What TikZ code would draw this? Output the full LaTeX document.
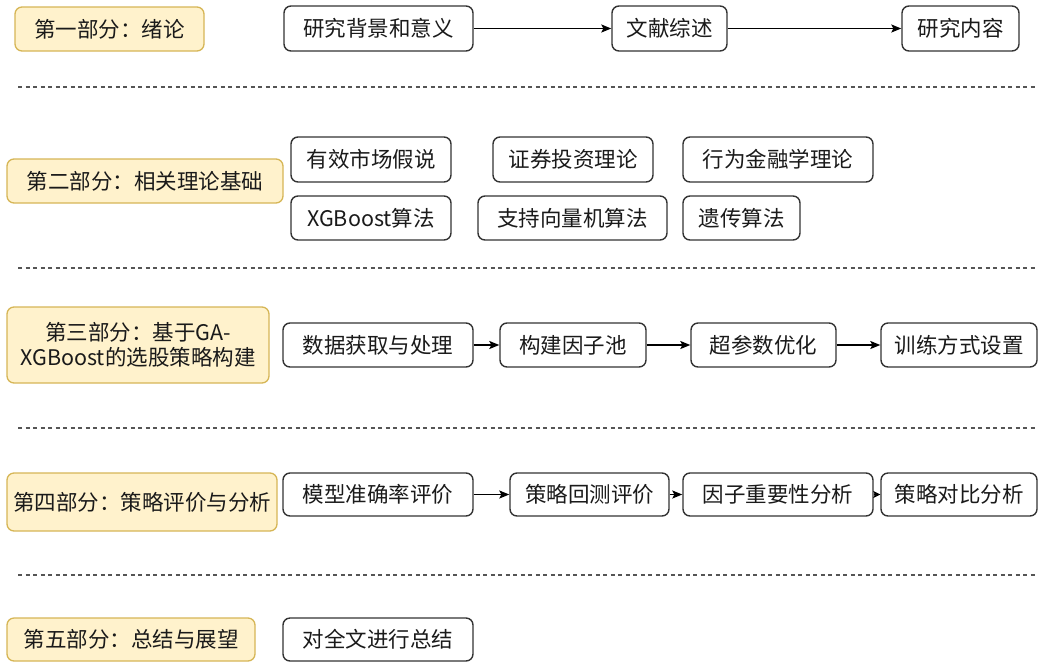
\documentclass[tikz,border=0pt]{standalone}
\usepackage{fontspec}
\setmainfont{Noto Sans CJK SC}
\usetikzlibrary{arrows.meta}
\definecolor{partfill}{HTML}{FFF2CC}
\definecolor{partdraw}{HTML}{D6B656}
\definecolor{boxdraw}{HTML}{333333}
\definecolor{txt}{HTML}{1A1A1A}
\definecolor{sepcol}{HTML}{555555}
\begin{document}
\begin{tikzpicture}[x=1pt,y=-1pt,
  every node/.style={font=\fontsize{21.5}{25}\selectfont, text=txt, inner sep=0pt},
  part/.style={draw=partdraw, fill=partfill, line width=1.3pt, rounded corners=7pt},
  item/.style={draw=boxdraw, fill=white, line width=1.4pt, rounded corners=7pt},
  flow/.style={draw=black, line width=1.3pt, -{Stealth[length=10pt,width=8pt,inset=2pt]}},
  sep/.style={draw=sepcol, line width=1.3pt, dash pattern=on 4pt off 3.5pt}
]
\useasboundingbox (0,0) rectangle (1038,662);

% Part 1
\node[part, minimum width=189pt, minimum height=44pt] (p1) at (109.5,29) {第一部分：绪论};
\node[item, minimum width=189pt, minimum height=45pt] (a1) at (378.5,28.5) {研究背景和意义};
\node[item, minimum width=115pt, minimum height=45pt] (a2) at (669.5,28.5) {文献综述};
\node[item, minimum width=117pt, minimum height=45pt] (a3) at (960.5,28.5) {研究内容};
\draw[flow] (a1) -- (a2);
\draw[flow] (a2) -- (a3);

\coordinate (s1l) at (18,87); \coordinate (s1r) at (1036,87);
\draw[sep] (s1l) -- (s1r);

% Part 2
\node[part, minimum width=276pt, minimum height=44pt] (p2) at (145,181) {第二部分：相关理论基础};
\node[item, minimum width=160pt, minimum height=45pt] (b1) at (371,159.5) {有效市场假说};
\node[item, minimum width=160pt, minimum height=45pt] (b2) at (573,159.5) {证券投资理论};
\node[item, minimum width=190pt, minimum height=45pt] (b3) at (778,159.5) {行为金融学理论};
\node[item, minimum width=160pt, minimum height=44pt] (b4) at (371,218) {XGBoost算法};
\node[item, minimum width=189pt, minimum height=44pt] (b5) at (572.5,218) {支持向量机算法};
\node[item, minimum width=117pt, minimum height=44pt] (b6) at (741.5,218) {遗传算法};

\coordinate (s2l) at (18,268); \coordinate (s2r) at (1036,268);
\draw[sep] (s2l) -- (s2r);

% Part 3
\node[part, minimum width=262pt, minimum height=76pt, align=center, font=\fontsize{21.5}{25}\selectfont] (p3) at (138,345) {第三部分：基于GA-\\XGBoost的选股策略构建};
\node[item, minimum width=190pt, minimum height=44pt] (c1) at (378,345) {数据获取与处理};
\node[item, minimum width=146pt, minimum height=44pt] (c2) at (573,345) {构建因子池};
\node[item, minimum width=145pt, minimum height=44pt] (c3) at (763.5,345) {超参数优化};
\node[item, minimum width=156pt, minimum height=44pt] (c4) at (959,345) {训练方式设置};
\draw[flow] (c1) -- (c2);
\draw[flow] (c2) -- (c3);
\draw[flow] (c3) -- (c4);

\coordinate (s3l) at (18,428); \coordinate (s3r) at (1036,428);
\draw[sep] (s3l) -- (s3r);

% Part 4
\node[part, minimum width=270pt, minimum height=58pt] (p4) at (142,502) {第四部分：策略评价与分析};
\node[item, minimum width=190pt, minimum height=43pt] (d1) at (378,494.5) {模型准确率评价};
\node[item, minimum width=159pt, minimum height=43pt] (d2) at (589.5,494.5) {策略回测评价};
\node[item, minimum width=190pt, minimum height=43pt] (d3) at (778,494.5) {因子重要性分析};
\node[item, minimum width=156pt, minimum height=43pt] (d4) at (959,494.5) {策略对比分析};
\draw[flow] (d1) -- (d2);
\draw[flow] (d2) -- (d3);
\draw[draw=black, line width=1.3pt, -{Stealth[length=7pt,width=7pt,inset=1.5pt]}] (d3) -- (d4);

\coordinate (s4l) at (18,575); \coordinate (s4r) at (1036,575);
\draw[sep] (s4l) -- (s4r);

% Part 5
\node[part, minimum width=248pt, minimum height=43pt] (p5) at (131,639.5) {第五部分：总结与展望};
\node[item, minimum width=190pt, minimum height=43pt] (e1) at (378,639.5) {对全文进行总结};
\end{tikzpicture}
\end{document}
